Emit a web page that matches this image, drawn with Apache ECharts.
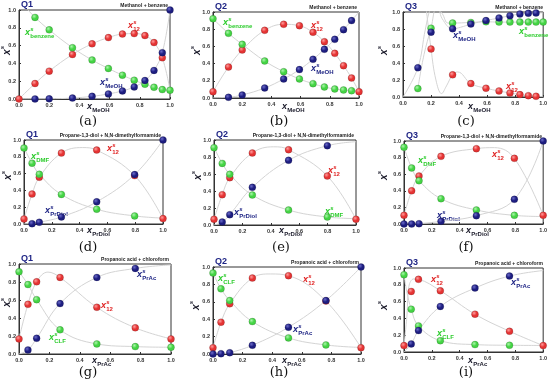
<!DOCTYPE html>
<html><head><meta charset="utf-8">
<script src="https://cdn.jsdelivr.net/npm/echarts@6/dist/echarts.min.js"></script>
<style>html,body{margin:0;padding:0;background:#fff}#c{width:550px;height:387px}</style>
</head><body><div id="c"></div>
<script>
// ---------- DATA ----------
// (a) Methanol + benzene, Q1
const A_RED   = [[0,0],[0.106,0.174],[0.2,0.313],[0.354,0.5],[0.484,0.62],[0.592,0.69],[0.685,0.73],[0.763,0.735],[0.834,0.713],[0.894,0.634],[0.949,0.464]];
const A_GREEN = [[0.106,0.917],[0.2,0.777],[0.354,0.577],[0.484,0.438],[0.592,0.343],[0.685,0.268],[0.763,0.211],[0.834,0.166],[0.894,0.132],[0.949,0.106],[1,0.098]];
const A_NAVY  = [[0.106,0.001],[0.2,0.002],[0.354,0.011],[0.484,0.03],[0.592,0.057],[0.685,0.091],[0.763,0.136],[0.834,0.208],[0.894,0.321],[0.949,0.521],[1,1]];
const A_RED_C   = [[0,0],[0.106,0.174],[0.2,0.313],[0.354,0.5],[0.484,0.62],[0.592,0.69],[0.685,0.73],[0.763,0.735],[0.834,0.713],[0.894,0.634],[0.949,0.464],[1,0.1]];
const A_GREEN_C = [[0.05,1.02],[0.106,0.917],[0.2,0.777],[0.354,0.577],[0.484,0.438],[0.592,0.343],[0.685,0.268],[0.763,0.211],[0.834,0.166],[0.894,0.132],[0.949,0.106],[1,0.098]];
const A_NAVY_C  = [[0,0],[0.106,0.001],[0.2,0.002],[0.354,0.011],[0.484,0.03],[0.592,0.057],[0.685,0.091],[0.763,0.136],[0.834,0.208],[0.894,0.321],[0.949,0.521],[1,1]];
// (b) Methanol + benzene, Q2
const B_RED   = [[0,0.074],[0.106,0.36],[0.2,0.558],[0.354,0.787],[0.484,0.857],[0.592,0.841],[0.685,0.764],[0.763,0.655],[0.834,0.519],[0.894,0.376],[0.949,0.233],[1,0.074]];
const B_GREEN = [[0,0.922],[0.106,0.752],[0.2,0.624],[0.354,0.43],[0.484,0.306],[0.592,0.221],[0.685,0.167],[0.763,0.128],[0.834,0.105],[0.894,0.093],[0.949,0.085]];
const B_NAVY  = [[0.106,0.008],[0.2,0.035],[0.354,0.116],[0.484,0.221],[0.592,0.33],[0.685,0.45],[0.763,0.566],[0.834,0.682],[0.894,0.795],[0.949,0.9]];
const B_RED_C   = B_RED;
const B_GREEN_C = [[0,0.922],[0.106,0.752],[0.2,0.624],[0.354,0.43],[0.484,0.306],[0.592,0.221],[0.685,0.167],[0.763,0.128],[0.834,0.105],[0.894,0.093],[0.949,0.085],[1,0.08]];
const B_NAVY_C  = [[0,0],[0.106,0.008],[0.2,0.035],[0.354,0.116],[0.484,0.221],[0.592,0.33],[0.685,0.45],[0.763,0.566],[0.834,0.682],[0.894,0.795],[0.949,0.9],[1,1]];
// (c) Methanol + benzene, Q3
const C_RED   = [[0.2,0.565],[0.354,0.261],[0.484,0.158],[0.592,0.103],[0.685,0.071],[0.763,0.047],[0.834,0.028],[0.894,0.016],[0.949,0.008]];
const C_GREEN = [[0.106,0.099],[0.2,0.81],[0.354,0.87],[0.484,0.877],[0.592,0.885],[0.685,0.881],[0.763,0.881],[0.834,0.881],[0.894,0.881],[0.949,0.881],[1,0.881]];
const C_NAVY  = [[0.106,0.344],[0.2,0.763],[0.354,0.802],[0.484,0.858],[0.592,0.9],[0.685,0.929],[0.763,0.957],[0.834,0.976],[0.894,0.984],[0.949,0.988]];
const C_RED_C   = [[0.165,1.05],[0.2,0.565],[0.235,0.2],[0.275,0.04],[0.31,0.13],[0.354,0.261],[0.39,0.295],[0.484,0.158],[0.592,0.103],[0.685,0.071],[0.763,0.047],[0.834,0.028],[0.894,0.016],[0.949,0.008],[1,0.003]];
const C_GREEN_C = [[0.106,0.099],[0.15,0.5],[0.2,0.81],[0.24,1.05],[0.28,0.98],[0.32,0.87],[0.354,0.87],[0.484,0.877],[0.592,0.885],[0.685,0.881],[0.763,0.881],[0.834,0.881],[0.894,0.881],[0.949,0.881],[1,0.881]];
const C_NAVY_C  = [[0,0],[0.106,0.344],[0.16,0.8],[0.2,1.05],[0.24,1.08],[0.28,0.92],[0.354,0.802],[0.41,0.82],[0.484,0.858],[0.592,0.9],[0.685,0.929],[0.763,0.957],[0.834,0.976],[0.894,0.984],[0.949,0.988],[1,0.99]];
// (d) Propane-1,3-diol + N,N-dimethylformamide, Q1
const D_RED   = [[0,0.06],[0.058,0.356],[0.11,0.556],[0.269,0.844],[0.523,0.88],[0.796,0.576],[1,0.064]];
const D_GREEN = [[0,0.904],[0.058,0.724],[0.11,0.592],[0.269,0.352],[0.523,0.176],[0.796,0.096]];
const D_NAVY  = [[0.058,0.004],[0.11,0.02],[0.269,0.084],[0.523,0.264],[0.796,0.588],[1,1]];
const D_RED_C   = [[0,0.06],[0.058,0.356],[0.11,0.556],[0.269,0.844],[0.42,0.91],[0.523,0.88],[0.796,0.576],[1,0.064]];
const D_GREEN_C = [[0,0.904],[0.058,0.724],[0.11,0.592],[0.269,0.352],[0.523,0.176],[0.796,0.096],[1,0.07]];
const D_NAVY_C  = [[0,0],[0.058,0.004],[0.11,0.02],[0.269,0.084],[0.523,0.264],[0.796,0.588],[1,1]];
// (e) Propane-1,3-diol + N,N-dimethylformamide, Q2
const E_RED   = [[0,0.067],[0.058,0.357],[0.111,0.557],[0.27,0.847],[0.525,0.886],[0.798,0.576],[1,0.067]];
const E_GREEN = [[0,0.91],[0.058,0.725],[0.111,0.596],[0.27,0.353],[0.525,0.176],[0.798,0.094]];
const E_NAVY  = [[0.058,0.035],[0.111,0.122],[0.27,0.443],[0.525,0.761],[0.798,0.933]];
const E_RED_C   = [[0,0.067],[0.058,0.357],[0.111,0.557],[0.27,0.847],[0.42,0.92],[0.525,0.886],[0.798,0.576],[1,0.067]];
const E_GREEN_C = [[0,0.91],[0.058,0.725],[0.111,0.596],[0.27,0.353],[0.525,0.176],[0.798,0.094],[1,0.075]];
const E_NAVY_C  = [[0,0],[0.058,0.035],[0.111,0.122],[0.27,0.443],[0.525,0.761],[0.798,0.933],[1,0.98]];
// (f) Propane-1,3-diol + N,N-dimethylformamide, Q3
const F_RED   = [[0,0.104],[0.055,0.4],[0.108,0.578],[0.266,0.815],[0.52,0.908],[0.793,0.791],[1,0.104]];
const F_GREEN = [[0,0.924],[0.055,0.675],[0.108,0.522],[0.266,0.305],[0.52,0.169],[0.793,0.104]];
const F_NAVY  = [[0,0],[0.055,0.0],[0.108,0.004],[0.266,0.032],[0.52,0.1],[0.793,0.297],[1,1]];
const F_RED_C   = [[0,0.104],[0.055,0.4],[0.108,0.578],[0.266,0.815],[0.52,0.908],[0.65,0.92],[0.793,0.791],[1,0.104]];
const F_GREEN_C = [[0,0.924],[0.055,0.675],[0.108,0.522],[0.266,0.305],[0.52,0.169],[0.793,0.104],[1,0.09]];
const F_NAVY_C  = F_NAVY;
// (g) Propanoic acid + chloroform, Q1
const G_RED   = [[0,0.168],[0.059,0.552],[0.116,0.802],[0.27,0.851],[0.512,0.519],[0.765,0.291],[1,0.168]];
const G_GREEN = [[0,0.914],[0.059,0.772],[0.116,0.604],[0.27,0.269],[0.512,0.112],[0.765,0.082],[1,0.075]];
const G_NAVY  = [[0.059,0.045],[0.116,0.175],[0.27,0.56],[0.512,0.851],[0.765,0.951]];
const G_RED_C   = [[0,0.168],[0.059,0.552],[0.116,0.802],[0.19,0.91],[0.27,0.851],[0.512,0.519],[0.765,0.291],[1,0.168]];
const G_GREEN_C = G_GREEN;
const G_NAVY_C  = [[0,0],[0.059,0.045],[0.116,0.175],[0.27,0.56],[0.512,0.851],[0.765,0.951],[1,0.99]];
// (h) Propanoic acid + chloroform, Q2
const H_RED   = [[0,0.073],[0.054,0.365],[0.113,0.577],[0.266,0.873],[0.51,0.9],[0.763,0.608],[1,0.073]];
const H_GREEN = [[0,0.931],[0.054,0.75],[0.113,0.615],[0.266,0.373],[0.51,0.185],[0.763,0.104]];
const H_NAVY  = [[0,0],[0.054,0.004],[0.113,0.015],[0.266,0.1],[0.51,0.308],[0.763,0.615],[1,1]];
const H_RED_C   = [[0,0.073],[0.054,0.365],[0.113,0.577],[0.266,0.873],[0.39,0.92],[0.51,0.9],[0.763,0.608],[1,0.073]];
const H_GREEN_C = [[0,0.931],[0.054,0.75],[0.113,0.615],[0.266,0.373],[0.51,0.185],[0.763,0.104],[1,0.075]];
const H_NAVY_C  = H_NAVY;
// (i) Propanoic acid + chloroform, Q3
const I_RED   = [[0,0.076],[0.052,0.721],[0.104,0.865],[0.261,0.729],[0.51,0.45],[0.758,0.247],[1,0.076]];
const I_GREEN = [[0,0.92],[0.052,0.51],[0.104,0.311],[0.261,0.135],[0.51,0.088],[0.758,0.08]];
const I_NAVY  = [[0.052,0.096],[0.104,0.255],[0.261,0.542],[0.51,0.761],[0.758,0.904]];
const I_RED_C   = [[0,0.076],[0.022,0.45],[0.035,0.78],[0.07,0.87],[0.104,0.865],[0.261,0.729],[0.51,0.45],[0.758,0.247],[1,0.076]];
const I_GREEN_C = [[0,0.92],[0.02,0.72],[0.052,0.51],[0.104,0.311],[0.261,0.135],[0.51,0.088],[0.758,0.08],[1,0.078]];
const I_NAVY_C  = [[0,0],[0.052,0.096],[0.104,0.255],[0.261,0.542],[0.51,0.761],[0.758,0.904],[1,0.97]];

const X_TICKS = [0, 0.2, 0.4, 0.6, 0.8, 1.0];
const Q_NAMES = ['Q1','Q2','Q3'];
const SYSTEMS = ['Methanol + benzene','Propane-1,3-diol + N,N-dimethylformamide','Propanoic acid + chloroform'];
const X_SUBS = ['MeOH','PrDiol','PrAc'];
const LETTERS = ['(a)','(b)','(c)','(d)','(e)','(f)','(g)','(h)','(i)'];

// ---------- LAYOUT ----------
const COL = {red:'#e53333', green:'#44d444', navy:'#1d1d80'};
const HI  = {red:'#ff9a9a', green:'#aaf5aa', navy:'#6a6ac8'};
const TXT = {red:'#e02424', green:'#2ccc2c', navy:'#1f2585'};
const panels = [
 {g:[19,10,151,89],  d:[A_RED,A_GREEN,A_NAVY], c:[A_RED_C,A_GREEN_C,A_NAVY_C], lp:[88,122], xt:[87,107], yt:[7,55],
  labs:[['benzene','green',25,33],['12','red',128,26],['MeOH','navy',100,83]]},
 {g:[213,12,146,86], d:[B_RED,B_GREEN,B_NAVY], c:[B_RED_C,B_GREEN_C,B_NAVY_C], lp:[279,122], xt:[282,107], yt:[197,55],
  labs:[['benzene','green',223,23],['12','red',311,26],['MeOH','navy',311,69]]},
 {g:[403,12,142,85], d:[C_RED,C_GREEN,C_NAVY], c:[C_RED_C,C_GREEN_C,C_NAVY_C], lp:[466,122], xt:[468,107], yt:[384,55],
  labs:[['MeOH','navy',453,36],['benzene','green',519,32],['12','red',506,87]]},
 {g:[24,140,139,84], d:[D_RED,D_GREEN,D_NAVY], c:[D_RED_C,D_GREEN_C,D_NAVY_C], lp:[88,248], xt:[87,231], yt:[8,180],
  labs:[['DMF','green',31,157],['12','red',107,149],['PrDiol','navy',45,211]]},
 {g:[214,140,142,85], d:[E_RED,E_GREEN,E_NAVY], c:[E_RED_C,E_GREEN_C,E_NAVY_C], lp:[281,248], xt:[279,231], yt:[198,180],
  labs:[['12','red',328,171],['PrDiol','navy',234,213],['DMF','green',325,212]]},
 {g:[404,141,140,83], d:[F_RED,F_GREEN,F_NAVY], c:[F_RED_C,F_GREEN_C,F_NAVY_C], lp:[466,248], xt:[466,231], yt:[384,180],
  labs:[['DMF','green',418,161],['12','red',492,155],['PrDiol','navy',437,216]]},
 {g:[19,264,152,90], d:[G_RED,G_GREEN,G_NAVY], c:[G_RED_C,G_GREEN_C,G_NAVY_C], lp:[88,373], xt:[92,361], yt:[7,307],
  labs:[['PrAc','navy',137,275],['12','red',101,306],['CLF','green',49,338]]},
 {g:[213,267,148,87], d:[H_RED,H_GREEN,H_NAVY], c:[H_RED_C,H_GREEN_C,H_NAVY_C], lp:[279,373], xt:[282,361], yt:[196,310],
  labs:[['CLF','green',218,279],['12','red',303,280],['PrAc','navy',293,330]]},
 {g:[404,268,141,84], d:[I_RED,I_GREEN,I_NAVY], c:[I_RED_C,I_GREEN_C,I_NAVY_C], lp:[466,373], xt:[468,361], yt:[384,310],
  labs:[['12','red',431,280],['PrAc','navy',511,283],['CLF','green',437,334]]}
];

function sphere(k){
  return {type:'radial', x:0.38, y:0.35, r:0.7, colorStops:[{offset:0,color:HI[k]},{offset:0.5,color:COL[k]},{offset:1,color:COL[k]}]};
}
function xs(x,y,sub,color,fs,sup){
  const ch=[{type:'text',x:0,y:0,style:{text:'x',font:`italic bold ${fs}px Arial`,fill:color,verticalAlign:'middle',align:'left'}}];
  if(sup) ch.push({type:'text',x:fs*0.58,y:-fs*0.42,style:{text:'s',font:`italic bold ${Math.round(fs*0.62)}px Arial`,fill:color,verticalAlign:'middle'}});
  if(sub) ch.push({type:'text',x:fs*0.58,y:fs*0.38,style:{text:sub,font:`bold ${Math.round(fs*0.66)}px Arial`,fill:color,verticalAlign:'middle'}});
  return {type:'group',x,y,children:ch};
}

const grid=[],xAxis=[],yAxis=[],series=[],graphic=[];
panels.forEach((p,i)=>{
  const [l,t,w,h]=p.g;
  grid.push({left:l,top:t,width:w,height:h,show:true,borderColor:'#333',borderWidth:1});
  const axCommon={gridIndex:i,type:'value',min:0,max:1,interval:0.2,
    axisLine:{show:true,onZero:false,lineStyle:{color:'#333',width:1}},
    axisTick:{show:true,inside:true,length:2,lineStyle:{color:'#333'}},
    axisLabel:{fontSize:5.5,fontWeight:'bold',color:'#333',margin:3,formatter:v=>v.toFixed(1)},
    splitLine:{show:false}};
  xAxis.push(Object.assign({},axCommon));
  yAxis.push(Object.assign({},axCommon));
  const names=['red','green','navy'];
  p.c.forEach((cd,k)=>series.push({type:'line',xAxisIndex:i,yAxisIndex:i,data:cd,smooth:0.4,showSymbol:false,silent:true,
    clip:true,lineStyle:{color:'#d4d4d4',width:1},z:1}));
  p.d.forEach((dd,k)=>series.push({type:'scatter',xAxisIndex:i,yAxisIndex:i,data:dd,symbolSize:7,silent:true,z:3,
    itemStyle:{color:sphere(names[k]),borderColor:'rgba(0,0,0,0.3)',borderWidth:0.5,opacity:1}}));
  const row=Math.floor(i/3), col=i%3;
  graphic.push({type:'text',x:l+2,y:t-1,style:{text:Q_NAMES[col],font:'bold 9px Arial',fill:'#1f2585',verticalAlign:'bottom'}});
  graphic.push({type:'text',x:l+w-2,y:t-2,style:{text:SYSTEMS[row],font:'bold 5px Arial',fill:'#222',align:'right',verticalAlign:'bottom'}});
  graphic.push({type:'text',x:p.lp[0],y:p.lp[1],style:{text:LETTERS[i],font:'13px "DejaVu Serif", serif',fill:'#111',align:'center',verticalAlign:'middle'}});
  graphic.push(xs(p.xt[0],p.xt[1],X_SUBS[row],'#1a1a2a',9,false));
  const yg=xs(0,0,null,'#1a1a2a',10,true); yg.x=p.yt[0]; yg.y=p.yt[1]; yg.rotation=Math.PI/2;
  graphic.push(yg);
  p.labs.forEach(([sub,c,x,y])=>graphic.push(xs(x,y,sub,TXT[c],9,true)));
});

const chart=echarts.init(document.getElementById('c'),null,{renderer:'canvas'});
chart.setOption({animation:false,backgroundColor:'#fff',grid,xAxis,yAxis,series,graphic});
</script></body></html>
